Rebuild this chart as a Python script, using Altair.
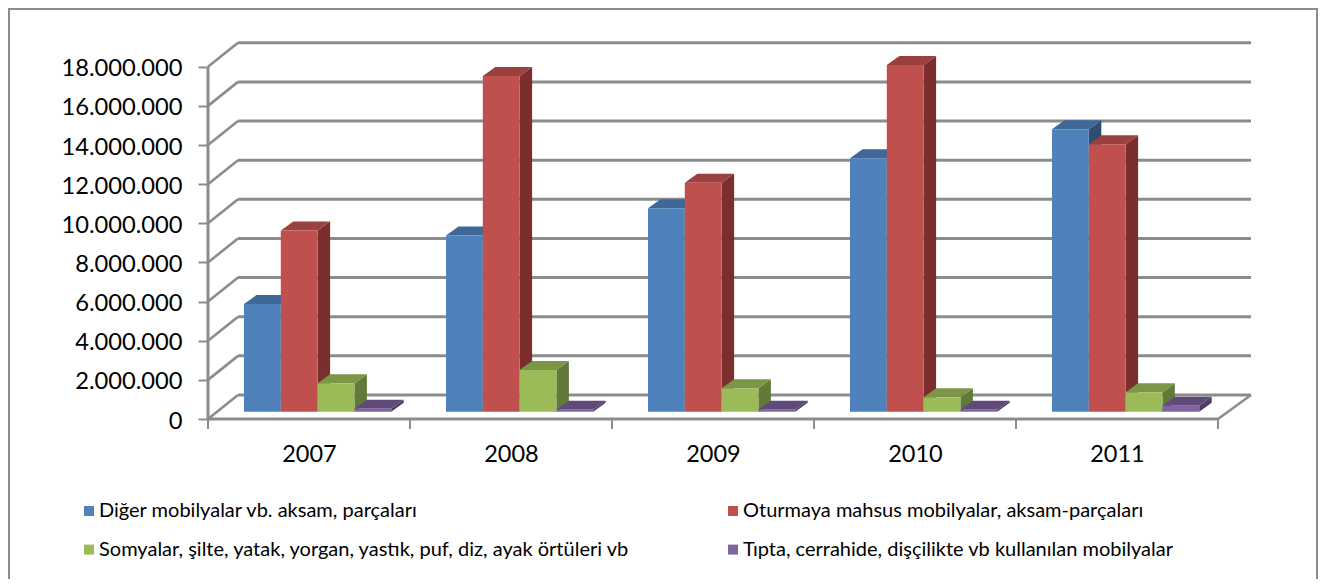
import altair as alt
import pandas as pd

years = ["2007", "2008", "2009", "2010", "2011"]
series = [
    "Diğer mobilyalar vb. aksam, parçaları",
    "Oturmaya mahsus mobilyalar, aksam-parçaları",
    "Somyalar, şilte, yatak, yorgan, yastık, puf, diz, ayak örtüleri vb",
    "Tıpta, cerrahide, dişçilikte vb kullanılan mobilyalar",
]
diger = [5500000, 9000000, 10400000, 12950000, 14430000]
oturma = [9260000, 17150000, 11700000, 17720000, 13670000]
somya = [1450000, 2130000, 1200000, 740000, 1000000]
tipta = [150000, 100000, 100000, 100000, 300000]
values = [diger, oturma, somya, tipta]
front_colors = ["#4f81bd", "#c0504d", "#9bbb59", "#8064a2"]
top_colors = ["#3f6797", "#9a403e", "#7c9647", "#5f4a7a"]
side_colors = ["#2f4d71", "#7a2f2e", "#617a38", "#4d3c66"]
ticks = list(range(0, 18000001, 2000000))

PW, PH = 1042, 376
PX_X = 202.0
PX_M = 19.57 / 1e6
XMAX = PW / PX_X
YMAX = PH / PX_M
WALL_DX_L = 30 / PX_X
WALL_DX_R = 33 / PX_X
WALL_DY = 24 / PX_M
BAR_START = 36 / PX_X
BAR_W = 36.8 / PX_X
BAR_DX = 12.5 / PX_X
BAR_DY = 9 / PX_M
BASE = 7.3 / PX_M

xs = alt.Scale(domain=[0, XMAX], nice=False, zero=False)
ys = alt.Scale(domain=[0, YMAX], nice=False, zero=False)
GRID = "#8c8c8c"
FONT = "Lato"


def X(name="x", **kw):
    return alt.X(f"{name}:Q", scale=xs, title=None, **kw)


def Y(name="y", **kw):
    return alt.Y(f"{name}:Q", scale=ys, title=None, **kw)


frame_left = alt.Chart(pd.DataFrame({"a": [0]})).mark_rule(color=GRID, strokeWidth=2).encode(
    x=alt.value(-199), y=alt.value(-35), y2=alt.value(540))
frame_right = alt.Chart(pd.DataFrame({"a": [0]})).mark_rule(color=GRID, strokeWidth=2).encode(
    x=alt.value(1109), y=alt.value(-35), y2=alt.value(540))
frame_top = alt.Chart(pd.DataFrame({"a": [0]})).mark_rule(color=GRID, strokeWidth=2).encode(
    x=alt.value(-199), x2=alt.value(1109), y=alt.value(-34))

back = pd.DataFrame({
    "x": [WALL_DX_L] * len(ticks),
    "x2": [5 + WALL_DX_R] * len(ticks),
    "y": [t + WALL_DY for t in ticks],
})
back_lines = alt.Chart(back).mark_rule(color=GRID, strokeWidth=3).encode(
    x=X(axis=alt.Axis(values=[i + 0.5 for i in range(5)],
                      labelExpr="['2007','2008','2009','2010','2011'][floor(datum.value)]",
                      domain=False, ticks=False, grid=False, labelFontSize=23.5, labelFont=FONT,
                      labelColor="#000000", labelPadding=23, labelAngle=0, labelFlush=False,
                      labelOverlap=False)),
    x2="x2:Q",
    y=Y(axis=alt.Axis(values=ticks, labelExpr="replace(format(datum.value,','),/,/g,'.')",
                      domain=False, tickSize=10, tickColor=GRID, tickWidth=2, grid=False,
                      labelFontSize=23.7, labelFont=FONT, labelColor="#000000", labelPadding=16,
                      labelOffset=2)),
)
diag = pd.DataFrame({
    "x": [0.0] * len(ticks) + [5.0],
    "x2": [WALL_DX_L] * len(ticks) + [5 + WALL_DX_R],
    "y": ticks + [0],
    "y2": [t + WALL_DY for t in ticks] + [WALL_DY],
})
diag_lines = alt.Chart(diag).mark_rule(color=GRID, strokeWidth=2.6).encode(
    x=X(), x2="x2:Q", y=Y(), y2="y2:Q")

axis_x = alt.Chart(pd.DataFrame({"x": [0.0], "x2": [5.0], "y": [0.0]})).mark_rule(
    color=GRID, strokeWidth=3).encode(x=X(), x2="x2:Q", y=Y())
axis_y = alt.Chart(pd.DataFrame({"x": [0.0], "y": [0.0], "y2": [18000000.0]})).mark_rule(
    color=GRID, strokeWidth=3).encode(x=X(), y=Y(), y2="y2:Q")
x_ticks = alt.Chart(pd.DataFrame({"x": [float(i) for i in range(6)]})).mark_rule(
    color=GRID, strokeWidth=2).encode(x=X(), y=alt.value(PH), y2=alt.value(PH + 10))

color = alt.Color("series:N", scale=alt.Scale(domain=series, range=front_colors),
                  legend=alt.Legend(
                      title=None, orient="none", legendX=-129, legendY=458, columns=2,
                      direction="horizontal", symbolType="square", symbolSize=100,
                      symbolStrokeWidth=0, labelFont=FONT, labelFontSize=20,
                      labelColor="#000000", labelLimit=0, rowPadding=18.6, columnPadding=92,
                      labelOffset=0, padding=0))

bar_layers = []
for s, name in enumerate(series):
    front, side, top = [], [], []
    for c, year in enumerate(years):
        v = values[s][c]
        x0 = c + BAR_START + s * BAR_W
        x1 = x0 + BAR_W
        yb = BASE
        yt = BASE + v
        key = f"{year}-{s}"
        front.append({"x": x0, "x2": x1, "y": yb, "y2": yt, "series": name})
        side += [
            {"k": key, "x": x1, "y": yt, "y2": yb},
            {"k": key, "x": x1 + BAR_DX, "y": yt + BAR_DY, "y2": yb + BAR_DY},
        ]
        top += [
            {"k": key, "x": x0, "y": yt, "y2": yt},
            {"k": key, "x": x0 + BAR_DX, "y": yt + BAR_DY, "y2": yt},
            {"k": key, "x": x1, "y": yt + BAR_DY, "y2": yt},
            {"k": key, "x": x1 + BAR_DX, "y": yt + BAR_DY, "y2": yt + BAR_DY},
        ]
    bar_layers.append(alt.Chart(pd.DataFrame(side)).mark_area(color=side_colors[s], interpolate="linear").encode(
        x=X(), y=Y(), y2="y2:Q", detail="k:N"))
    bar_layers.append(alt.Chart(pd.DataFrame(top)).mark_area(color=top_colors[s], interpolate="linear").encode(
        x=X(), y=Y(), y2="y2:Q", detail="k:N"))
    bar_layers.append(alt.Chart(pd.DataFrame(front)).mark_rect().encode(
        x=X(), x2="x2:Q", y=Y(), y2="y2:Q", color=color))

chart = alt.layer(
    frame_left, frame_right, frame_top, back_lines, diag_lines, axis_x, axis_y, x_ticks, *bar_layers
).properties(
    width=PW, height=PH,
    autosize=alt.AutoSizeParams(type="none"),
    padding={"left": 200, "top": 35, "right": 70, "bottom": 160},
    background="#ffffff",
).configure_view(stroke=None)

chart.save("out.html", embed_options={"renderer": "svg", "actions": False})
